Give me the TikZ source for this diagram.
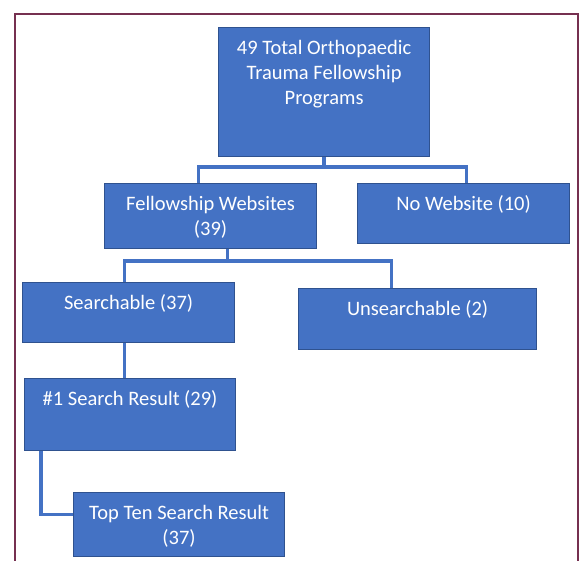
\documentclass[tikz,border=0pt]{standalone}
\usepackage{fontspec}
\setmainfont{Carlito}
\usetikzlibrary{calc}
\definecolor{boxblue}{HTML}{4472C4}
\definecolor{boxedge}{HTML}{2F528F}
\definecolor{framered}{HTML}{763050}
\tikzstyle{progbox} = [draw=boxedge, fill=boxblue, line width=1.2pt, rectangle, anchor=north west,
  inner sep=0pt, text=white, align=center, text height=26.5pt, font=\fontsize{20.5}{25}\selectfont]
\tikzstyle{link} = [draw=boxblue, line width=3.5pt]

\begin{document}
\begin{tikzpicture}[x=1pt,y=-1pt]
  \useasboundingbox (0,0) rectangle (581,560);
  % outer frame, open at the bottom
  \draw[framered, line width=2pt] (15,565) -- (15,14) -- (578,14) -- (578,565);

  % text height counts down to the last line of the box
  \node[progbox, minimum width=211pt, minimum height=129pt, text height=76.5pt, text depth=52.5pt] (total) at (218,27)
    {49 Total Orthopaedic\\Trauma Fellowship\\Programs};
  \node[progbox, minimum width=212pt, minimum height=65pt, text height=51.5pt, text depth=13.5pt] (sites) at (104,183)
    {Fellowship Websites\\(39)};
  \node[progbox, minimum width=212pt, minimum height=60pt, text depth=33.5pt] (nosite) at (357,183)
    {No Website (10)};
  \node[progbox, minimum width=212pt, minimum height=60pt, text depth=33.5pt] (search) at (22,282)
    {Searchable (37)};
  \node[progbox, minimum width=238pt, minimum height=61pt, text depth=34.5pt] (unsearch) at (298,288)
    {Unsearchable (2)};
  \node[progbox, minimum width=211pt, minimum height=72pt, text depth=45.5pt] (first) at (24,378)
    {\#1 Search Result (29)};
  \node[progbox, minimum width=211pt, minimum height=64pt, text height=51.5pt, text depth=12.5pt] (topten) at (73,492)
    {Top Ten Search Result\\(37)};

  % connectors
  \draw[link] (total.south) -- ++(0,10) -| ([xshift=-12pt]sites.north);
  \draw[link] (total.south) ++(0,10) -| ([xshift=3pt]nosite.north);
  \draw[link] ([xshift=17pt]sites.south) -- ++(0,12) -| ([xshift=-4pt]search.north);
  \draw[link] ([xshift=17pt]sites.south) ++(0,12) -| ([xshift=-26pt]unsearch.north);
  \draw[link] ([xshift=-4pt]search.south) -- ([xshift=-4pt]search.south |- first.north);
  \draw[link] ([xshift=17pt]first.south west) |- ([yshift=10pt]topten.west);
\end{tikzpicture}
\end{document}
